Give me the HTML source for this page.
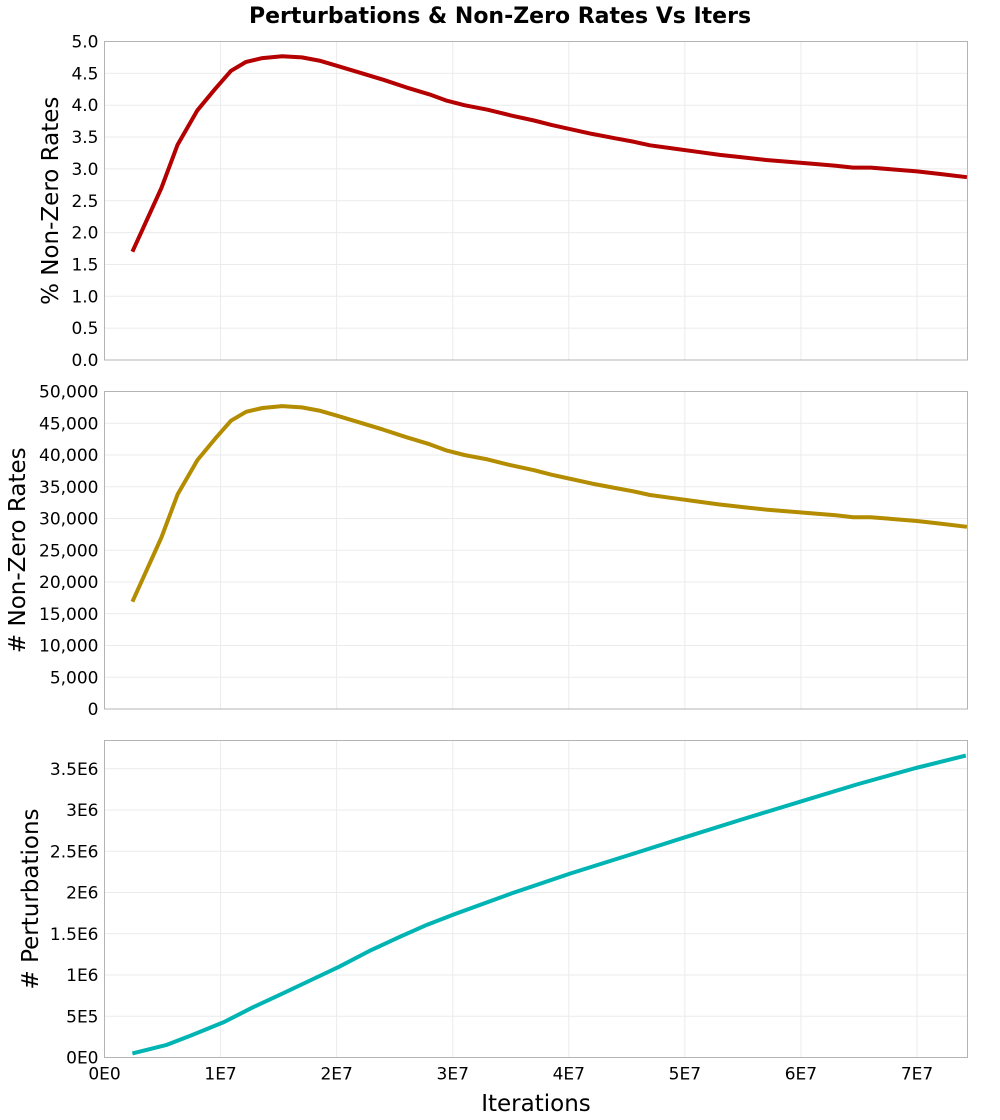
<!DOCTYPE html>
<html><head><meta charset="utf-8"><style>
html,body{margin:0;padding:0;background:#fff;}
svg{display:block;font-family:"DejaVu Sans","Liberation Sans",sans-serif;}
</style></head><body>
<svg id="chart" width="1000" height="1120" viewBox="0 0 1000 1120" xmlns="http://www.w3.org/2000/svg">
<text x="500" y="23" text-anchor="middle" font-size="22" font-weight="bold" fill="#000">Perturbations &amp; Non-Zero Rates Vs Iters</text>
<g id="layer"></g>
<text x="536" y="1111" text-anchor="middle" font-size="23" fill="#000">Iterations</text>
</svg>
<script>
// iterations in millions
const rateX = [2.4,4.9,6.3,8,9.5,10.9,12.2,13.6,15.3,17,18.5,20,22,24,26,28,29.5,31,33,35,37,38.5,40,42,44,45.5,47,49,51,53,55,57,59,61,63,64.5,66,68,70,72,74.3];
const rateVals = [1.70,2.70,3.38,3.92,4.25,4.54,4.68,4.74,4.77,4.75,4.70,4.62,4.51,4.40,4.28,4.17,4.07,4.00,3.93,3.84,3.76,3.69,3.63,3.55,3.48,3.43,3.37,3.32,3.27,3.22,3.18,3.14,3.11,3.08,3.05,3.02,3.02,2.99,2.96,2.92,2.87];
const countVals = [16900,27000,33800,39200,42500,45400,46800,47400,47700,47500,47000,46200,45100,44000,42800,41700,40700,40000,39300,38400,37600,36900,36300,35500,34800,34300,33700,33200,32700,32200,31800,31400,31100,30800,30500,30200,30200,29900,29600,29200,28700];
const pertX = [2.4,5.3,7.5,10.3,12.8,15.4,17.8,20.2,22.8,25.4,27.8,30.2,35.1,40.1,45.1,50.0,55.0,59.9,64.8,69.9,74.2];
const pertVals = [0.05,0.15,0.27,0.43,0.61,0.78,0.94,1.10,1.29,1.46,1.61,1.74,1.99,2.23,2.45,2.67,2.89,3.10,3.31,3.51,3.66]; // millions
const xTicks = [0,10,20,30,40,50,60,70];
const xTickLabels = ["0E0","1E7","2E7","3E7","4E7","5E7","6E7","7E7"];
const rateTicks = [0,0.5,1,1.5,2,2.5,3,3.5,4,4.5,5];
const rateTickLabels = ["0.0","0.5","1.0","1.5","2.0","2.5","3.0","3.5","4.0","4.5","5.0"];
const countTicks = [0,5000,10000,15000,20000,25000,30000,35000,40000,45000,50000];
const countTickLabels = ["0","5,000","10,000","15,000","20,000","25,000","30,000","35,000","40,000","45,000","50,000"];
const pertTicks = [0,0.5,1,1.5,2,2.5,3,3.5];
const pertTickLabels = ["0E0","5E5","1E6","1.5E6","2E6","2.5E6","3E6","3.5E6"];

const NS="http://www.w3.org/2000/svg";
const layer=document.getElementById('layer');
const L=104.5,R=967.5,X0=0,X1=74.35;
const xs=v=>L+(v-X0)/(X1-X0)*(R-L);
function mk(tag,attrs){const e=document.createElementNS(NS,tag);for(const k in attrs)e.setAttribute(k,attrs[k]);return e;}

function panel(name,top,bottom,ymax,yticks,ylabels,xv,yv,color,title,titleX,showX){
  const ys=v=>bottom-(v/ymax)*(bottom-top);
  const g=mk('g',{});
  
  
  layer.appendChild(g);
  xTicks.forEach((t,i)=>{
    const l=mk('line',{x1:xs(t),x2:xs(t),y1:top,y2:bottom,stroke:'#ebebeb','stroke-width':1});
    
    
    g.appendChild(l);
    if(showX){
      const tx=mk('text',{x:xs(t),y:bottom+22,'text-anchor':'middle','font-size':17,fill:'#000'});
      
      
      tx.textContent=xTickLabels[i];g.appendChild(tx);
    }
  });
  yticks.forEach((t,i)=>{
    const l=mk('line',{x1:L,x2:R,y1:ys(t),y2:ys(t),stroke:'#ebebeb','stroke-width':1});
    
    
    g.appendChild(l);
    const tx=mk('text',{x:L-6,y:ys(t)+6,'text-anchor':'end','font-size':17,fill:'#000'});
    
    
    tx.textContent=ylabels[i];g.appendChild(tx);
  });
  const fr=mk('rect',{x:L,y:top,width:R-L,height:bottom-top,fill:'none',stroke:'#b4b4b4','stroke-width':1});
  
  
  g.appendChild(fr);
  const d=xv.map((x,i)=>(i?'L':'M')+xs(x).toFixed(1)+' '+ys(yv[i]).toFixed(1)).join(' ');
  const p=mk('path',{d:d,fill:'none',stroke:color,'stroke-width':4,'stroke-linejoin':'round'});
  
  
  g.appendChild(p);
  const cy=(top+bottom)/2;
  const tt=mk('text',{x:titleX,y:cy,'text-anchor':'middle','font-size':23,fill:'#000',transform:`rotate(-90 ${titleX} ${cy})`});
  
  
  tt.textContent=title;g.appendChild(tt);
}
panel('rate',41.5,360,5,rateTicks,rateTickLabels,rateX,rateVals,'#b40000','% Non-Zero Rates',58,false);
panel('count',391.5,709,50000,countTicks,countTickLabels,rateX,countVals,'#b48c00','# Non-Zero Rates',25,false);
panel('perturbations',740.5,1057.5,3.843,pertTicks,pertTickLabels,pertX,pertVals,'#00b4b4','# Perturbations',38,true);
</script>
</body></html>
